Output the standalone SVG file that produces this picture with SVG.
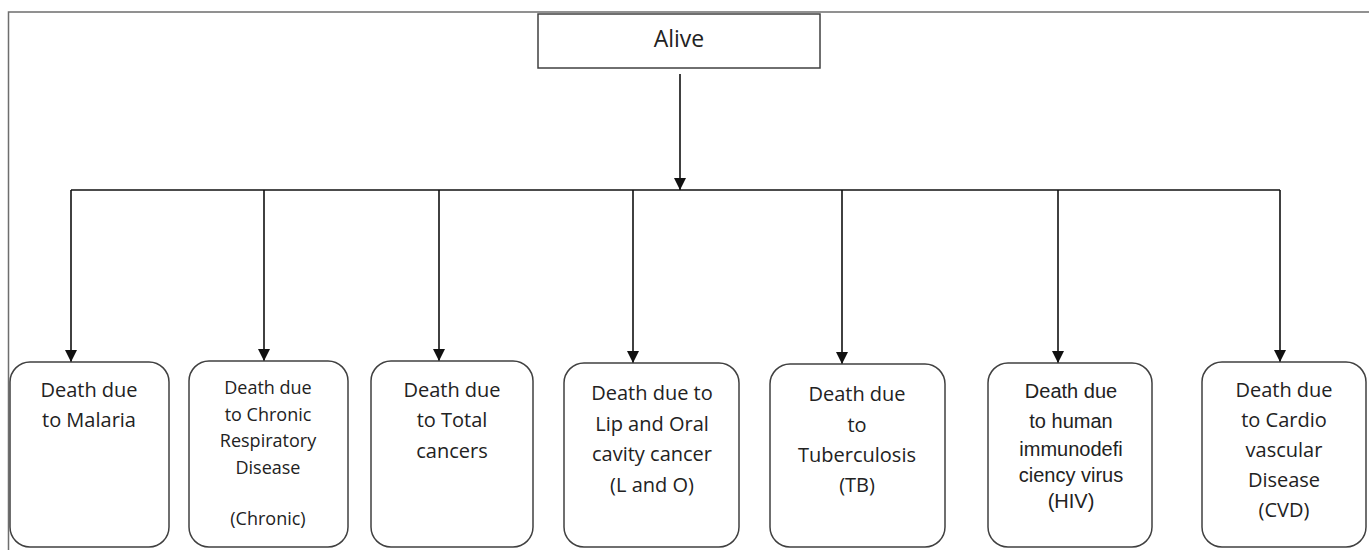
<svg xmlns="http://www.w3.org/2000/svg" width="1369" height="550" viewBox="0 0 1369 550">
<style>
.frame{fill:none;stroke:#6e6e6e;stroke-width:1.5}
.box{fill:#fff;stroke:#404040;stroke-width:1.5}
.conn{fill:none;stroke:#111;stroke-width:1.6}
.t{font-family:"Open Sans","Liberation Sans",sans-serif;font-size:20px;fill:#222;text-anchor:middle}
.s{font-size:18px}
.a{font-family:"Liberation Sans",Arial,sans-serif;font-size:20px}
</style>
<defs>
<marker id="ah" viewBox="0 0 12 12" refX="12" refY="6" markerWidth="12" markerHeight="12" markerUnits="userSpaceOnUse" orient="auto">
<path d="M0,0 L12,6 L0,12 Z" fill="#111"/>
</marker>
</defs>
<rect width="1369" height="550" fill="#fff"/>
<path class="frame" d="M8.5,550 V12 H1369"/>
<g id="connectors">
<path class="conn" d="M680,74 V190" marker-end="url(#ah)"/>
<path class="conn" d="M71,190 H1280"/>
<path class="conn" d="M71,190 V362" marker-end="url(#ah)"/>
<path class="conn" d="M264,190 V361" marker-end="url(#ah)"/>
<path class="conn" d="M439,190 V361" marker-end="url(#ah)"/>
<path class="conn" d="M633,190 V363" marker-end="url(#ah)"/>
<path class="conn" d="M842,190 V364" marker-end="url(#ah)"/>
<path class="conn" d="M1058,190 V363" marker-end="url(#ah)"/>
<path class="conn" d="M1280,190 V362" marker-end="url(#ah)"/>
</g>
<g id="alive">
<rect class="box" x="538" y="14" width="282" height="54"/>
<text class="t" x="679" y="47" style="font-size:23px">Alive</text>
</g>
<g id="malaria">
<rect class="box" x="10" y="362" width="159" height="185" rx="20"/>
<text class="t" x="89" y="397">Death due</text>
<text class="t" x="89" y="427">to Malaria</text>
</g>
<g id="chronic">
<rect class="box" x="189" y="361" width="159" height="186" rx="20"/>
<text class="t s" x="268" y="394">Death due</text>
<text class="t s" x="268" y="421">to Chronic</text>
<text class="t s" x="268" y="447">Respiratory</text>
<text class="t s" x="268" y="474">Disease</text>
<text class="t s" x="268" y="525">(Chronic)</text>
</g>
<g id="cancers">
<rect class="box" x="371" y="361" width="162" height="186" rx="20"/>
<text class="t" x="452" y="397">Death due</text>
<text class="t" x="452" y="427">to Total</text>
<text class="t" x="452" y="458">cancers</text>
</g>
<g id="liporal">
<rect class="box" x="564" y="363" width="175" height="184" rx="20"/>
<text class="t" x="652" y="400">Death due to</text>
<text class="t" x="652" y="431">Lip and Oral</text>
<text class="t" x="652" y="461">cavity cancer</text>
<text class="t" x="652" y="492">(L and O)</text>
</g>
<g id="tb">
<rect class="box" x="770" y="364" width="175" height="183" rx="20"/>
<text class="t" x="857" y="401">Death due</text>
<text class="t" x="857" y="432">to</text>
<text class="t" x="857" y="462">Tuberculosis</text>
<text class="t" x="857" y="492">(TB)</text>
</g>
<g id="hiv">
<rect class="box" x="988" y="363" width="164" height="184" rx="20"/>
<text class="t a" x="1071" y="398">Death due</text>
<text class="t a" x="1071" y="428">to human</text>
<text class="t a" x="1071" y="456">immunodefi</text>
<text class="t a" x="1071" y="482">ciency virus</text>
<text class="t a" x="1071" y="508">(HIV)</text>
</g>
<g id="cvd">
<rect class="box" x="1202" y="362" width="164" height="185" rx="20"/>
<text class="t" x="1284" y="397">Death due</text>
<text class="t" x="1284" y="427">to Cardio</text>
<text class="t" x="1284" y="457">vascular</text>
<text class="t" x="1284" y="487">Disease</text>
<text class="t" x="1284" y="517">(CVD)</text>
</g>
</svg>
